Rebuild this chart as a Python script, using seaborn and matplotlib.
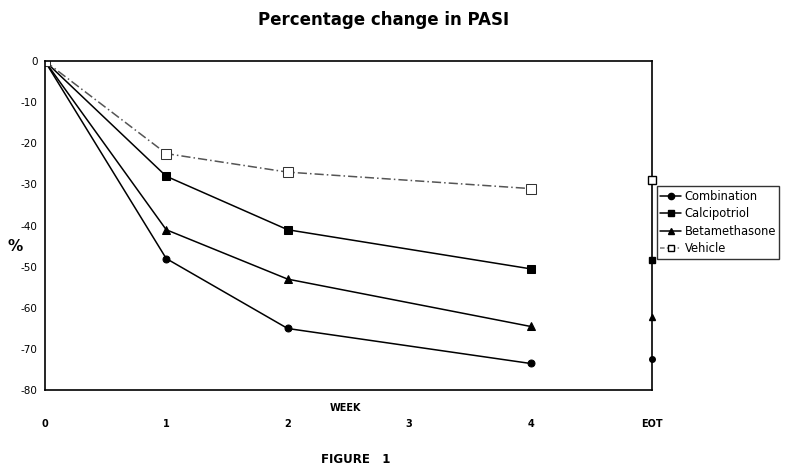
import matplotlib
matplotlib.use("Agg")
import matplotlib.pyplot as plt
import seaborn as sns
import pandas as pd
from matplotlib.lines import Line2D

weeks = [0, 1, 2, 4]
series = ["Combination", "Calcipotriol", "Betamethasone", "Vehicle"]
combination = [0, -48, -65, -73.5]
calcipotriol = [0, -28, -41, -50.5]
betamethasone = [0, -41, -53, -64.5]
vehicle = [0, -22.5, -27, -31]
eot_values = [-72.3, -48.3, -62.3, -29]
eot_pos = 5
xtick_pos = [0, 1, 2, 3, 4, 5]
xtick_labels = ["0", "1", "2", "3", "4", "EOT"]
yticks = [0, -10, -20, -30, -40, -50, -60, -70, -80]

rows = []
for name, vals in zip(series, [combination, calcipotriol, betamethasone, vehicle]):
    for w, v in zip(weeks, vals):
        rows.append({"week": w, "pct": v, "Treatment": name})
df = pd.DataFrame(rows)

sns.set_theme(style="white")
plt.rcParams["font.family"] = ["DejaVu Sans"]
plt.rcParams["text.color"] = "black"
plt.rcParams["xtick.color"] = "black"
plt.rcParams["ytick.color"] = "black"

fig = plt.figure(figsize=(8, 4.73), dpi=100)
ax = fig.add_axes([0.056, 0.175, 0.759, 0.696])

palette = {"Combination": "black", "Calcipotriol": "black",
           "Betamethasone": "black", "Vehicle": "#555555"}
markers = {"Combination": "o", "Calcipotriol": "s", "Betamethasone": "^", "Vehicle": "s"}
msizes = {"Combination": 5, "Calcipotriol": 5.5, "Betamethasone": 5.5, "Vehicle": 6.5}
dashes = {"Combination": "", "Calcipotriol": "", "Betamethasone": "", "Vehicle": (6, 2, 1, 2)}

sns.lineplot(data=df, x="week", y="pct", hue="Treatment", style="Treatment",
             palette=palette, markers=markers, dashes=dashes, hue_order=series,
             style_order=series, linewidth=1.1, ax=ax, legend=False)
for line, name in zip(ax.get_lines(), series):
    line.set_markersize(msizes[name])
    line.set_markeredgecolor("black")
    if name == "Vehicle":
        line.set_markerfacecolor("white")
        line.set_markeredgecolor("#333333")
    else:
        line.set_markerfacecolor("black")

for name, v in zip(series, eot_values):
    fc = "white" if name == "Vehicle" else "black"
    ax.plot([eot_pos], [v], marker=markers[name], markersize=msizes[name] - 1,
            markerfacecolor=fc, markeredgecolor="black", linestyle="none",
            clip_on=False, zorder=5)

handles = []
for name in series:
    fc = "white" if name == "Vehicle" else "black"
    ls = (0, (3, 1.5, 1, 1.5)) if name == "Vehicle" else "-"
    col = "#777777" if name == "Vehicle" else "black"
    handles.append(Line2D([], [], color=col, linestyle=ls, linewidth=1.1,
                          marker=markers[name], markersize=4.5,
                          markerfacecolor=fc, markeredgecolor="black"))
leg = ax.legend(handles, series, loc="upper left", bbox_to_anchor=(1.008, 0.62),
                frameon=True, fancybox=False, fontsize=8.3, handlelength=1.8,
                handletextpad=0.3, labelspacing=0.4, borderpad=0.3,
                borderaxespad=0)
leg.get_frame().set_edgecolor("black")
leg.get_frame().set_linewidth(1.0)

ax.set_xlim(0, 5)
ax.set_ylim(-80, 0)
ax.set_xticks(xtick_pos)
ax.set_xticklabels(xtick_labels, fontsize=7, fontweight="bold")
ax.set_yticks(yticks)
ax.set_yticklabels([str(t) for t in yticks], fontsize=7.5)
ax.tick_params(axis="x", direction="inout", length=6, width=1, pad=18, color="black")
ax.tick_params(axis="y", direction="out", length=3, width=0.8, pad=2, color="black")
for s in ax.spines.values():
    s.set_visible(True)
    s.set_color("black")
    s.set_linewidth(1.2)
ax.set_xlabel("")
ax.set_ylabel("")
ax.grid(False)

fig.text(0.009, 0.478, "%", fontsize=11, fontweight="bold", ha="left", va="center")
fig.text(0.432, 0.138, "WEEK", fontsize=7, fontweight="bold", ha="center", va="center")
fig.text(0.48, 0.957, "Percentage change in PASI", fontsize=12, fontweight="bold",
         ha="center", va="center")
fig.text(0.444, 0.028, "FIGURE   1", fontsize=8.5, fontweight="bold", ha="center", va="center")

fig.savefig("out.png", dpi=100)
